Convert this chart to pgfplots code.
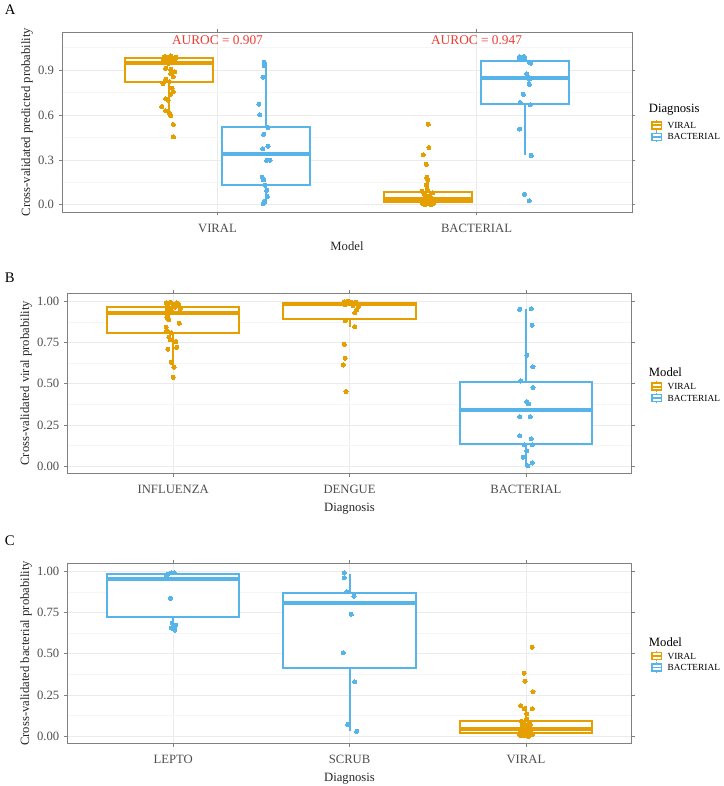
\documentclass[border=0pt]{standalone}
\usepackage{pgfplots}
\pgfplotsset{compat=1.18}
\usepgfplotslibrary{statistics}
\usepackage{fontspec}
\setmainfont{Liberation Serif}
\definecolor{vir}{HTML}{E69F00}
\definecolor{bac}{HTML}{56B4E9}
\definecolor{auroc}{HTML}{EE3B33}
\definecolor{gridmaj}{HTML}{EBEBEB}
\definecolor{gridmin}{HTML}{F5F5F5}
\definecolor{framec}{HTML}{808080}
\definecolor{ticklab}{HTML}{4D4D4D}

\pgfplotsset{
  panel/.style={
    scale only axis, height=135pt,
    axis line style={framec, line width=0.6pt},
    tick style={framec, line width=0.5pt},
    tick align=outside, major tick length=2.5pt, minor tick length=0pt,
    xmajorgrids, ymajorgrids, yminorgrids,
    major grid style={gridmaj, line width=0.6pt},
    minor grid style={gridmin, line width=0.4pt},
    tick label style={font=\fontsize{9.5}{11}\selectfont, text=ticklab},
    xticklabel style={yshift=-3pt},
    label style={font=\fontsize{9.5}{11}\selectfont, text=black!85},
    ylabel shift=-3pt,
    /pgf/number format/assume math mode=true,
  },
  bx/.style={#1, solid, line width=1.5pt,
    boxplot/draw direction=y,
    boxplot/whisker extend=0,
    boxplot/every box/.style={draw=#1, fill=white, line width=1.5pt},
    boxplot/every whisker/.style={draw=#1, line width=1.5pt},
    boxplot/every median/.style={draw=#1, line width=3pt}},
  pts/.style={color=#1, only marks, mark=*, mark size=1.55pt, mark options={solid, draw=#1, fill=#1, line width=0pt}},
}

\newcommand{\legglyph}[3]{%
  \draw[#1, line width=1.1pt] (#2+0pt,#3-4pt) -- (#2+0pt,#3+4pt);
  \draw[#1, line width=1.1pt, fill=white] (#2-3.6pt,#3-2.6pt) rectangle (#2+3.6pt,#3+2.6pt);
  \draw[#1, line width=1.3pt] (#2-3.6pt,#3) -- (#2+3.6pt,#3);
}
\newcommand{\legend}[3]{% title, y title, y first entry
  \node[anchor=west, inner sep=0pt, font=\fontsize{9.5}{11}\selectfont] at (486.5pt,#2) {#1};
  \legglyph{vir}{492.5pt}{#3}
  \legglyph{bac}{492.5pt}{#3-8.6pt}
  \node[anchor=west, inner sep=0pt, font=\fontsize{7}{8}\selectfont] at (500.5pt,#3) {VIRAL};
  \node[anchor=west, inner sep=0pt, font=\fontsize{7}{8}\selectfont] at (500.5pt,#3-8.6pt) {BACTERIAL};
}

\begin{document}
\begin{tikzpicture}
\useasboundingbox (0,0) rectangle (543pt,-589.5pt);

%================ Panel A
\node[anchor=west, inner sep=0pt, font=\fontsize{11}{12}\selectfont] at (3.5pt,-7.5pt) {A};
\begin{axis}[panel, at={(46.5pt,-159pt)}, anchor=south west, width=427.5pt,
  xmin=0.4, xmax=2.6, ymin=-0.048, ymax=1.155,
  xtick={1,2}, xticklabels={VIRAL,BACTERIAL},
  ytick={0,0.3,0.6,0.9}, minor ytick={0.15,0.45,0.75,1.05},
  yticklabel style={/pgf/number format/fixed,/pgf/number format/fixed zerofill,/pgf/number format/precision=1},
  xlabel={Model}, ylabel={Cross-validated predicted probability}]
\addplot[bx=vir, boxplot prepared={draw position=0.8125, box extend=0.34,
  lower whisker=0.59, lower quartile=0.824, median=0.95, upper quartile=0.98, upper whisker=0.995}] coordinates {};
\addplot[bx=bac, boxplot prepared={draw position=1.1875, box extend=0.34,
  lower whisker=0.007, lower quartile=0.131, median=0.343, upper quartile=0.517, upper whisker=0.953}] coordinates {};
\addplot[bx=vir, boxplot prepared={draw position=1.8125, box extend=0.34,
  lower whisker=0.0, lower quartile=0.018, median=0.04, upper quartile=0.089, upper whisker=0.183}] coordinates {};
\addplot[bx=bac, boxplot prepared={draw position=2.1875, box extend=0.34,
  lower whisker=0.33, lower quartile=0.673, median=0.846, upper quartile=0.958, upper whisker=0.991}] coordinates {};
\addplot[pts=vir] coordinates {
(0.80,0.99)(0.82,0.995)(0.83,0.98)(0.79,0.975)(0.81,0.97)(0.84,0.985)(0.80,0.96)(0.82,0.955)(0.835,0.975)(0.795,0.99)(0.825,0.965)(0.81,0.945)
(0.80,0.913)(0.82,0.905)(0.835,0.89)(0.82,0.875)(0.83,0.857)(0.80,0.84)(0.815,0.824)(0.79,0.81)(0.825,0.78)(0.83,0.757)(0.82,0.74)(0.80,0.708)(0.81,0.70)(0.785,0.657)(0.80,0.628)(0.815,0.612)(0.82,0.597)(0.83,0.537)(0.83,0.454)};
\addplot[pts=bac] coordinates {
(1.18,0.953)(1.18,0.929)(1.175,0.853)(1.16,0.673)(1.163,0.601)(1.195,0.517)(1.178,0.472)(1.195,0.392)(1.175,0.374)(1.19,0.298)(1.203,0.298)(1.173,0.183)(1.178,0.167)(1.183,0.131)(1.19,0.096)(1.192,0.056)(1.18,0.022)(1.177,0.007)};
\addplot[pts=vir] coordinates {
(1.814,0.539)(1.816,0.383)(1.794,0.334)(1.806,0.27)(1.808,0.183)(1.812,0.165)(1.806,0.134)(1.810,0.105)(1.79,0.09)(1.83,0.08)(1.80,0.07)(1.82,0.06)(1.805,0.05)(1.825,0.045)(1.795,0.035)(1.815,0.03)(1.83,0.02)(1.80,0.015)(1.81,0.01)(1.82,0.005)(1.792,0.008)(1.835,0.012)(1.80,0.025)(1.82,0.04)(1.812,0.055)(1.80,0.0)(1.825,0.002)};
\addplot[pts=bac] coordinates {
(2.166,0.991)(2.184,0.991)(2.166,0.978)(2.186,0.978)(2.204,0.953)(2.209,0.947)(2.194,0.875)(2.200,0.855)(2.204,0.84)(2.204,0.806)(2.181,0.739)(2.168,0.684)(2.207,0.668)(2.166,0.506)(2.211,0.33)(2.185,0.071)(2.204,0.027)};
\node[auroc, font=\fontsize{10}{12}\selectfont] at (axis cs:1,1.098) {AUROC = 0.907};
\node[auroc, font=\fontsize{10}{12}\selectfont] at (axis cs:2,1.098) {AUROC = 0.947};
\end{axis}
\legend{Diagnosis}{-82.5pt}{-94pt}

%================ Panel B
\node[anchor=west, inner sep=0pt, font=\fontsize{11}{12}\selectfont] at (3.5pt,-208.5pt) {B};
\begin{axis}[panel, at={(50.5pt,-355pt)}, anchor=south west, width=423.3pt,
  xmin=0.4, xmax=3.6, ymin=-0.043, ymax=1.048,
  xtick={1,2,3}, xticklabels={INFLUENZA,DENGUE,BACTERIAL},
  ytick={0,0.25,0.5,0.75,1}, minor ytick={0.125,0.375,0.625,0.875},
  yticklabel style={/pgf/number format/fixed,/pgf/number format/fixed zerofill,/pgf/number format/precision=2},
  xlabel={Diagnosis}, ylabel={Cross-validated viral probability}]
\addplot[bx=vir, boxplot prepared={draw position=1, box extend=0.75,
  lower whisker=0.6, lower quartile=0.81, median=0.931, upper quartile=0.968, upper whisker=0.995}] coordinates {};
\addplot[bx=vir, boxplot prepared={draw position=2, box extend=0.75,
  lower whisker=0.846, lower quartile=0.895, median=0.982, upper quartile=0.988, upper whisker=1.0}] coordinates {};
\addplot[bx=bac, boxplot prepared={draw position=3, box extend=0.75,
  lower whisker=0.004, lower quartile=0.133, median=0.341, upper quartile=0.513, upper whisker=0.951}] coordinates {};
\addplot[pts=vir] coordinates {
(0.96,0.99)(0.985,0.995)(1.02,0.99)(1.03,0.985)(0.97,0.975)(1.00,0.98)(1.035,0.97)(0.975,0.96)(1.01,0.965)(1.04,0.955)(0.99,0.945)(0.966,0.95)
(1.03,0.931)(0.97,0.917)(0.965,0.90)(0.975,0.887)(1.035,0.867)(0.96,0.842)(0.965,0.82)(0.99,0.81)(0.975,0.782)(0.985,0.766)(1.015,0.756)(1.02,0.721)(0.97,0.709)(0.99,0.63)(1.005,0.60)(1.0,0.539)};
\addplot[pts=vir] coordinates {
(1.97,0.998)(1.99,1.0)(2.01,0.995)(2.03,0.99)(2.04,0.985)(1.98,0.99)(2.00,0.985)(2.02,0.975)(2.05,0.97)(1.975,0.98)(2.035,0.995)
(2.04,0.947)(2.03,0.931)(1.975,0.883)(2.03,0.846)(1.97,0.739)(1.975,0.655)(1.965,0.614)(1.98,0.453)};
\addplot[pts=bac] coordinates {
(2.964,0.951)(3.03,0.955)(3.035,0.855)(3.005,0.673)(3.04,0.602)(2.97,0.517)(3.04,0.477)(3.005,0.392)(3.015,0.378)(2.965,0.301)(3.025,0.301)(2.965,0.184)(3.03,0.166)(2.99,0.13)(3.035,0.13)(3.005,0.095)(2.985,0.055)(3.035,0.02)(3.01,0.004)};
\end{axis}
\legend{Model}{-278.8pt}{-290pt}

%================ Panel C
\node[anchor=west, inner sep=0pt, font=\fontsize{11}{12}\selectfont] at (3.5pt,-405.5pt) {C};
\begin{axis}[panel, at={(50.5pt,-557.5pt)}, anchor=south west, width=423.3pt,
  xmin=0.4, xmax=3.6, ymin=-0.043, ymax=1.048,
  xtick={1,2,3}, xticklabels={LEPTO,SCRUB,VIRAL},
  ytick={0,0.25,0.5,0.75,1}, minor ytick={0.125,0.375,0.625,0.875},
  yticklabel style={/pgf/number format/fixed,/pgf/number format/fixed zerofill,/pgf/number format/precision=2},
  xlabel={Diagnosis}, ylabel={Cross-validated bacterial probability}]
\addplot[bx=bac, boxplot prepared={draw position=1, box extend=0.75,
  lower whisker=0.644, lower quartile=0.72, median=0.952, upper quartile=0.982, upper whisker=0.99}] coordinates {};
\addplot[bx=bac, boxplot prepared={draw position=2, box extend=0.75,
  lower whisker=0.03, lower quartile=0.416, median=0.81, upper quartile=0.87, upper whisker=0.986}] coordinates {};
\addplot[bx=vir, boxplot prepared={draw position=3, box extend=0.75,
  lower whisker=0.0, lower quartile=0.022, median=0.042, upper quartile=0.09, upper whisker=0.186}] coordinates {};
\addplot[pts=bac] coordinates {
(0.96,0.976)(0.97,0.982)(0.99,0.99)(1.005,0.99)(0.985,0.836)(0.995,0.686)(1.015,0.672)(0.99,0.656)(1.01,0.644)};
\addplot[pts=bac] coordinates {
(1.97,0.99)(1.97,0.96)(1.985,0.876)(2.025,0.85)(2.01,0.74)(1.965,0.506)(2.03,0.33)(1.99,0.072)(2.04,0.03)};
\addplot[pts=vir] coordinates {
(3.035,0.54)(2.99,0.382)(2.995,0.334)(3.04,0.27)(2.97,0.186)(2.99,0.166)(3.035,0.166)(3.005,0.136)(3.005,0.106)
(2.975,0.09)(3.02,0.085)(2.99,0.075)(3.025,0.07)(2.98,0.06)(3.0,0.05)(3.03,0.045)(2.97,0.035)(3.01,0.03)(2.985,0.02)(3.02,0.015)(2.965,0.01)(3.035,0.008)(2.99,0.004)(3.015,0.0)(2.975,0.002)(3.03,0.025)(3.0,0.065)(3.01,0.04)};
\end{axis}
\legend{Model}{-481.3pt}{-492pt}
\end{tikzpicture}
\end{document}
